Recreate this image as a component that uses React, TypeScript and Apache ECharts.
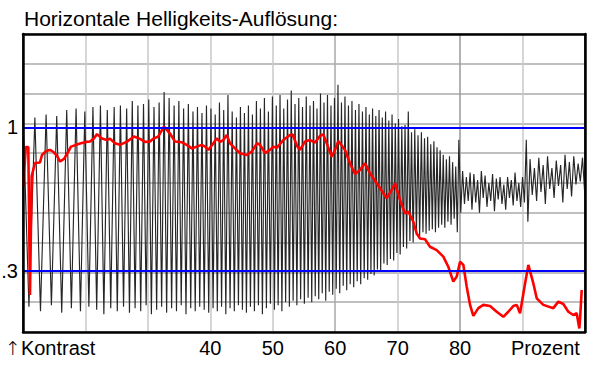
import { useEffect, useRef } from 'react';
import * as echarts from 'echarts';

const titleText = 'Horizontale Helligkeits-Auflösung:';
const xTickLabels = [40, 50, 60, 70, 80];
const leftEndLabel = '{arrow|↑}Kontrast';
const rightEndLabel = 'Prozent';
const levelValues = [6.87, 2.04];
const levelLabels = ['1', '.3'];

// black test signal: [percent, level units]
const blackWave: [number, number][] = [
  [10.0, 7.35], [10.95, 0.85], [11.9, 7.2], [12.8, 0.7], [13.7, 7.3], [14.55, 0.9], [15.4, 7.25], [16.2, 0.65],
  [17.0, 7.45], [17.75, 0.8], [18.5, 7.5], [19.2, 0.7], [19.9, 7.4], [20.55, 0.85], [21.2, 7.55], [21.8, 0.75],
  [22.4, 7.6], [22.95, 0.6], [23.5, 7.45], [24.05, 0.8], [24.6, 7.55], [25.1, 0.7], [25.6, 7.6], [26.1, 0.85],
  [26.6, 7.5], [27.05, 0.65], [27.5, 7.75], [27.95, 0.8], [28.4, 7.6], [28.85, 0.7], [29.3, 7.65], [29.72, 0.9],
  [30.14, 7.8], [30.56, 0.6], [30.98, 7.55], [31.4, 0.75], [31.8, 7.7], [32.2, 0.85], [32.6, 8.05], [33.0, 0.65],
  [33.4, 7.85], [33.8, 0.8], [34.2, 7.6], [34.58, 0.7], [34.96, 7.75], [35.34, 0.9], [35.72, 7.5], [36.1, 0.6],
  [36.48, 7.65], [36.86, 0.8], [37.22, 7.4], [37.58, 0.7], [37.94, 7.55], [38.3, 0.85], [38.66, 7.35], [39.02, 0.75],
  [39.38, 7.6], [39.74, 0.65], [40.1, 7.5], [40.44, 0.8], [40.78, 7.3], [41.12, 0.7], [41.46, 7.7], [41.8, 0.85],
  [42.14, 7.45], [42.48, 0.6], [42.82, 7.95], [43.16, 0.8], [43.5, 7.4], [43.84, 0.7], [44.18, 7.2], [44.5, 0.9],
  [44.82, 7.55], [45.14, 0.75], [45.46, 7.35], [45.78, 0.65], [46.1, 7.6], [46.42, 0.85], [46.74, 7.3], [47.06, 0.7],
  [47.38, 7.75], [47.7, 0.9], [48.02, 7.5], [48.34, 0.6], [48.66, 7.85], [48.98, 0.8], [49.3, 7.4], [49.62, 0.95],
  [49.94, 7.9], [50.26, 0.75], [50.56, 7.6], [50.86, 0.9], [51.16, 7.95], [51.46, 0.7], [51.76, 7.5], [52.06, 1.0],
  [52.36, 7.8], [52.66, 0.85], [52.96, 8.1], [53.26, 1.05], [53.56, 7.65], [53.86, 0.9], [54.16, 7.85], [54.46, 1.1],
  [54.76, 7.55], [55.06, 0.95], [55.36, 7.9], [55.66, 1.15], [55.96, 7.6], [56.24, 1.0], [56.52, 7.75], [56.8, 1.2],
  [57.08, 7.5], [57.36, 1.1], [57.64, 8.0], [57.92, 1.3], [58.2, 7.7], [58.48, 1.05], [58.76, 7.95], [59.04, 1.35],
  [59.32, 7.6], [59.6, 1.25], [59.88, 7.85], [60.16, 1.45], [60.44, 8.3], [60.72, 1.3], [61.0, 7.7], [61.28, 1.55],
  [61.56, 7.9], [61.84, 1.4], [62.12, 7.6], [62.4, 1.6], [62.68, 7.75], [62.96, 1.5], [63.24, 7.45], [63.52, 1.7],
  [63.8, 7.65], [64.08, 1.6], [64.36, 7.4], [64.64, 1.8], [64.92, 7.55], [65.2, 1.75], [65.46, 7.3], [65.72, 1.95],
  [65.98, 7.5], [66.24, 1.9], [66.5, 7.25], [66.76, 2.1], [67.02, 7.45], [67.28, 2.05], [67.54, 7.2], [67.8, 2.3],
  [68.06, 7.4], [68.32, 2.25], [68.58, 7.1], [68.84, 2.45], [69.1, 7.3], [69.36, 2.4], [69.62, 7.0], [69.88, 2.65],
  [70.14, 7.15], [70.4, 2.6], [70.66, 6.9], [70.92, 2.85], [71.18, 6.95], [71.44, 2.8], [71.7, 7.4], [71.96, 3.05],
  [72.22, 6.7], [72.48, 3.0], [72.74, 6.8], [73.0, 3.25], [73.26, 6.6], [73.52, 3.2], [73.8, 6.7], [74.05, 3.35],
  [74.3, 6.5], [74.55, 3.3], [74.8, 6.55], [75.05, 3.4], [75.3, 6.3], [75.55, 3.45], [75.8, 6.4], [76.05, 3.35],
  [76.3, 6.2], [76.55, 3.5], [76.8, 6.1], [77.05, 3.6], [77.3, 5.95], [77.55, 3.5], [77.8, 5.8], [78.05, 3.7],
  [78.3, 5.9], [78.55, 3.6], [78.8, 5.7], [79.05, 3.8], [79.3, 5.55], [79.55, 3.35], [79.8, 6.45], [80.1, 4.0],
  [80.4, 5.4], [80.7, 4.3], [81.0, 5.2], [81.3, 4.4], [81.6, 5.35], [81.9, 4.1], [82.2, 5.3], [82.5, 4.35],
  [82.8, 5.1], [83.1, 4.0], [83.4, 5.4], [83.7, 4.5], [84.0, 5.25], [84.3, 4.2], [84.6, 5.0], [84.9, 4.4],
  [85.2, 5.3], [85.5, 4.05], [85.8, 5.15], [86.1, 4.45], [86.4, 5.2], [86.7, 4.3], [87.0, 4.95], [87.3, 4.1],
  [87.6, 5.2], [87.9, 4.5], [88.2, 5.1], [88.5, 4.25], [88.8, 5.35], [89.1, 4.4], [89.4, 5.0], [89.7, 4.2],
  [90.0, 5.2], [90.3, 4.35], [90.6, 6.45], [90.85, 3.7], [91.2, 5.8], [91.55, 4.6], [91.9, 5.5], [92.25, 4.4],
  [92.6, 5.85], [92.95, 4.7], [93.3, 5.6], [93.65, 4.3], [94.0, 5.9], [94.35, 4.8], [94.7, 5.5], [95.05, 4.5],
  [95.4, 5.75], [95.75, 4.9], [96.1, 5.6], [96.45, 4.35], [96.8, 5.95], [97.15, 4.8], [97.5, 5.7], [97.85, 4.55],
  [98.2, 5.9], [98.55, 4.95], [98.9, 5.65], [99.25, 5.05], [99.6, 5.85], [100.0, 4.5],
];

// red measured curve: [percent, level units]
const redCurve: [number, number][] = [
  [10.05, 4.88], [10.45, 6.21], [10.85, 6.21], [11.12, 1.24], [11.39, 5.23], [11.92, 5.67], [12.72, 5.69], [13.04, 5.94],
  [13.68, 6.07], [14.32, 6.11], [14.88, 6.04], [15.45, 5.91], [15.93, 5.72], [16.57, 5.81], [17.21, 6.04], [17.69, 6.22],
  [18.49, 6.28], [19.29, 6.33], [20.09, 6.38], [20.73, 6.39], [21.29, 6.48], [21.85, 6.64], [22.65, 6.49], [23.45, 6.44],
  [23.93, 6.49], [24.73, 6.33], [25.53, 6.28], [26.66, 6.39], [27.78, 6.56], [28.74, 6.48], [29.54, 6.38], [30.34, 6.39],
  [30.9, 6.49], [31.62, 6.55], [32.58, 6.89], [33.54, 6.66], [34.34, 6.39], [35.38, 6.37], [36.22, 6.28], [37.02, 6.16],
  [37.82, 6.22], [38.62, 6.28], [39.15, 6.22], [39.68, 6.11], [40.48, 6.33], [41.02, 6.5], [41.55, 6.38], [42.08, 6.44],
  [42.62, 6.61], [43.15, 6.33], [43.95, 6.16], [44.75, 6.0], [45.83, 5.94], [46.63, 6.05], [47.48, 6.34], [47.96, 6.28],
  [48.76, 6.0], [49.56, 6.11], [50.09, 6.22], [50.63, 6.18], [51.69, 6.44], [52.76, 6.61], [53.19, 6.63], [53.88, 6.24],
  [54.36, 6.11], [55.16, 6.39], [55.96, 6.44], [56.76, 6.36], [57.56, 6.58], [58.09, 6.63], [58.64, 6.33], [59.44, 5.88],
  [59.97, 6.11], [60.5, 6.41], [61.57, 6.11], [62.37, 5.66], [63.17, 5.3], [63.97, 5.44], [64.77, 5.66], [65.57, 5.33],
  [66.65, 4.99], [68.25, 4.49], [69.05, 4.77], [69.58, 4.99], [70.38, 4.43], [71.18, 3.98], [71.71, 4.04], [72.51, 3.7],
  [73.05, 3.31], [73.58, 3.14], [74.38, 3.11], [75.18, 2.86], [76.25, 2.75], [77.31, 2.53], [78.11, 2.19], [78.91, 1.69],
  [79.46, 1.86], [79.99, 2.36], [80.52, 2.25], [81.06, 1.52], [81.59, 0.91], [82.12, 0.54], [82.92, 0.8], [83.72, 0.91],
  [84.79, 0.87], [85.86, 0.68], [86.92, 0.51], [87.72, 0.68], [88.52, 0.87], [89.07, 0.91], [89.6, 0.63], [90.4, 1.63],
  [90.93, 2.25], [91.73, 1.63], [92.27, 1.13], [93.33, 0.91], [94.93, 0.8], [95.73, 1.02], [96.53, 0.94], [97.33, 0.68],
  [98.13, 0.57], [98.67, 0.63], [99.09, 0.12], [99.2, 0.4], [99.47, 1.41],
];

const FONT = '"Liberation Sans", Arial, sans-serif';

const frameAxis = (position: string) => ({
  position,
  min: 0, max: 1, z: 10,
  axisLine: { show: true, onZero: false, lineStyle: { color: '#000', width: 2.5 } },
  axisTick: { show: false }, axisLabel: { show: false }, splitLine: { show: false },
});

export default function App() {
  const ref = useRef<HTMLDivElement>(null);
  useEffect(() => {
    if (!ref.current) return;
    const chart = echarts.init(ref.current, null, { renderer: 'svg' });
    chart.setOption({
      animation: false,
      backgroundColor: '#ffffff',
      grid: { left: 23, top: 34, right: 15, bottom: 42 },
      xAxis: [
        {
          type: 'value', min: 10, max: 100, interval: 10,
          axisLine: { show: false }, axisTick: { show: false },
          axisLabel: {
            margin: 6, fontSize: 20, color: '#000', fontFamily: FONT,
            formatter: (v: number) => (xTickLabels.includes(v) ? String(v) : ''),
          },
          splitLine: {
            show: true,
            lineStyle: { color: ['#000', '#c8c8c8', '#c8c8c8', '#c8c8c8', '#c8c8c8', '#a8a8a8', '#c8c8c8', '#999', '#c8c8c8', '#000'], width: 1.5 },
          },
        },
        { type: 'value', ...frameAxis('bottom') },
        { type: 'value', ...frameAxis('top') },
      ],
      yAxis: [
        {
          type: 'value', min: 0, max: 10, interval: 1,
          axisLine: { show: false }, axisTick: { show: false }, axisLabel: { show: false },
          splitLine: { show: true, lineStyle: { color: '#aaa', width: 1.5 } },
        },
        { type: 'value', ...frameAxis('left') },
        { type: 'value', ...frameAxis('right') },
      ],
      graphic: [
        { type: 'text', left: 24, top: 8, style: { text: titleText, font: `21px ${FONT}`, fill: '#000' } },
        {
          type: 'text', left: 5, top: 338,
          style: {
            text: leftEndLabel, font: `20px ${FONT}`, fill: '#000',
            rich: { arrow: { fontFamily: '"DejaVu Sans"', fontSize: 19, fontWeight: 200, fill: '#000' } },
          },
        },
        { type: 'text', left: 511, top: 338, style: { text: rightEndLabel, font: `20px ${FONT}`, fill: '#000' } },
      ],
      series: [
        {
          type: 'line', data: blackWave, symbol: 'none', silent: true, z: 1,
          lineStyle: { color: '#262626', width: 1.15 },
        },
        {
          type: 'line', data: [], symbol: 'none', silent: true, z: 2,
          markLine: {
            symbol: 'none', silent: true, animation: false,
            lineStyle: { color: '#0000ff', width: 2, type: 'solid' },
            label: {
              position: 'start', distance: 5, fontSize: 20, color: '#000', fontFamily: FONT,
              formatter: (p: any) => p.name,
            },
            data: levelValues.map((v, i) => ({ yAxis: v, name: levelLabels[i] })),
          },
        },
        {
          type: 'line', data: redCurve, symbol: 'none', silent: true, z: 3,
          lineStyle: { color: '#ff0000', width: 2.6 },
        },
      ],
    });
    return () => chart.dispose();
  }, []);
  return <div ref={ref} style={{ position: 'absolute', left: 0, top: 0, width: 600, height: 374 }} />;
}
